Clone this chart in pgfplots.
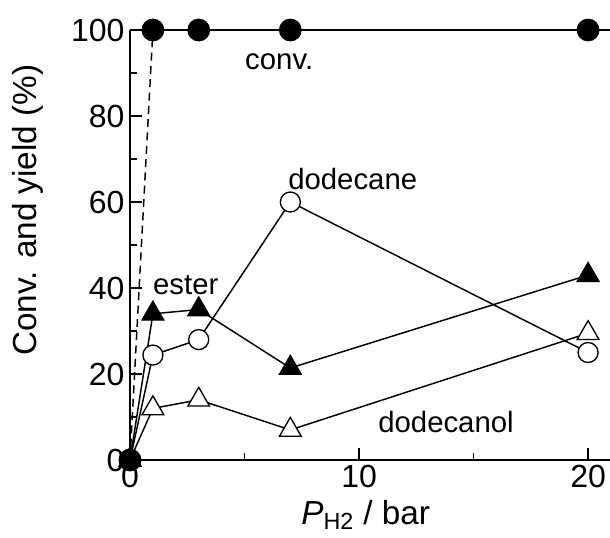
\documentclass[border=0pt]{standalone}
\usepackage{pgfplots}
\pgfplotsset{compat=1.18}
\usepackage{fontspec}
\setmainfont{Liberation Sans}
\begin{document}
\begin{tikzpicture}
\begin{axis}[name=ax, scale only axis, width=360.75pt, height=322.5pt,
  xmin=0, xmax=21, ymin=0, ymax=100,
  axis x line=bottom, axis y line=left,
  axis line style={-, line width=1.3pt},
  tick align=inside,
  xtick={0,10,20}, minor xtick={5,15},
  ytick={0,20,...,100}, minor ytick={10,30,...,90},
  major tick length=9pt, minor tick length=5pt,
  tick style={line width=1.1pt, black},
  ticklabel style={font=\fontsize{24}{28}\selectfont},
  yticklabel style={inner sep=4pt},
  xticklabel style={inner sep=4pt},
  /pgf/number format/assume math mode=true,
  clip=false,
  xlabel={\textit{P}\textsubscript{H2} / bar},
  ylabel={Conv. and yield (\%)},
  every axis x label/.style={at={(rel axis cs:0.49,-0.151)}, anchor=base, font=\fontsize{25}{30}\selectfont},
  every axis y label/.style={at={(rel axis cs:-0.212,0.581)}, anchor=center, rotate=90, font=\fontsize{25}{30}\selectfont},
  every axis plot/.append style={line width=1.1pt, black},
]
% conv dashed start
\addplot[dash pattern=on 6pt off 4pt, line width=1.1pt, no marks] coordinates {(0,0) (1,100)};
% dodecanol (open triangle)
\addplot[mark=triangle*, mark size=9.4pt, mark options={fill=white, line width=1pt, solid}] coordinates {(0,0) (1,12) (3,14) (7,7) (20,29.5)};
% dodecane (open circle)
\addplot[mark=*, mark size=7.5pt, mark options={fill=white, line width=1pt, solid}] coordinates {(0,0) (1,24.4) (3,28) (7,60) (20,25)};
% ester (filled triangle)
\addplot[mark=triangle*, mark size=9.4pt, mark options={fill=black, line width=1pt, solid}] coordinates {(0,0) (1,34) (3,35) (7,21.4) (20,43)};
% conv
\addplot[mark=*, mark size=8pt, mark options={fill=black, solid}] coordinates {(1,100) (3,100) (7,100) (20,100)};
\addplot[only marks, mark=*, mark size=8pt, mark options={fill=black}] coordinates {(0,0)};
\draw[line width=1.3pt] (rel axis cs:0,1) -- (rel axis cs:1,1);
\node[anchor=base west, font=\fontsize{22}{26}\selectfont, inner sep=0pt] at (axis cs:5.02,90.7) {conv.};
\node[anchor=base west, font=\fontsize{22}{26}\selectfont, inner sep=0pt] at (axis cs:6.9,63.0) {dodecane};
\node[anchor=base west, font=\fontsize{22}{26}\selectfont, inner sep=0pt] at (axis cs:1.0,38.4) {ester};
\node[anchor=base west, font=\fontsize{22}{26}\selectfont, inner sep=0pt] at (axis cs:10.83,6.5) {dodecanol};
\end{axis}
\pgfresetboundingbox
\path ([shift={(-97.5pt,-57.75pt)}]ax.south west) rectangle ([shift={(360pt,345pt)}]ax.south west);
\end{tikzpicture}
\end{document}
